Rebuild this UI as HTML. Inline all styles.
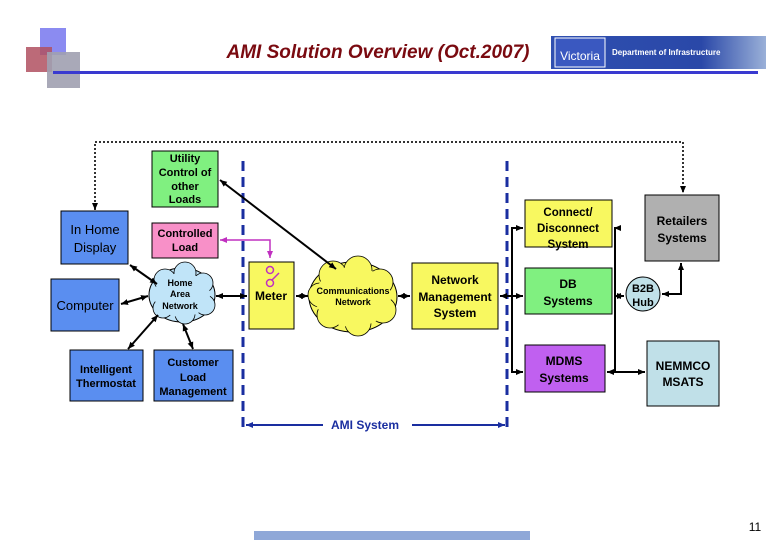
<!DOCTYPE html>
<html><head><style>
body{margin:0;width:780px;height:540px;background:#fff;overflow:hidden;font-family:"Liberation Sans",Arial,sans-serif}
</style></head><body>
<svg width="780" height="540" viewBox="0 0 780 540" xmlns="http://www.w3.org/2000/svg" font-family="Liberation Sans, Arial, sans-serif">
<defs>
<marker id="a" markerWidth="8" markerHeight="8" refX="7" refY="4" orient="auto-start-reverse" markerUnits="userSpaceOnUse"><path d="M0,1 L7,4 L0,7 z" fill="#000"/></marker>
<marker id="p" markerWidth="8" markerHeight="8" refX="7" refY="4" orient="auto-start-reverse" markerUnits="userSpaceOnUse"><path d="M0,1 L7,4 L0,7 z" fill="#c030c0"/></marker>
<marker id="b" markerWidth="8" markerHeight="8" refX="7" refY="4" orient="auto-start-reverse" markerUnits="userSpaceOnUse"><path d="M0,1 L7,4 L0,7 z" fill="#1a2ea0"/></marker>
<linearGradient id="lg" x1="0" x2="1"><stop offset="0" stop-color="#2f4fb0"/><stop offset="0.7" stop-color="#2a48a8"/><stop offset="1" stop-color="#9ab0d8"/></linearGradient>
</defs>
<rect x="40" y="28" width="26" height="27" fill="#7777ee" opacity="0.85"/>
<rect x="26" y="47" width="26" height="25" fill="#b05060" opacity="0.85"/>
<rect x="47" y="52" width="33" height="36" fill="#a0a0b0" opacity="0.9"/>
<rect x="53" y="71" width="705" height="3" fill="#3a3ad0"/>
<text x="378" y="58" text-anchor="middle" font-size="19" font-weight="bold" font-style="italic" fill="#7a0a10">AMI Solution Overview (Oct.2007)</text>
<rect x="551" y="36" width="215" height="33" fill="url(#lg)"/>
<rect x="555" y="38" width="50" height="29" fill="#3a58c0" stroke="#fff" stroke-width="1"/>
<text x="580" y="60" text-anchor="middle" font-size="12" fill="#fff">Victoria</text>
<text x="612" y="55" font-size="8" font-weight="bold" fill="#fff">Department of Infrastructure</text>
<path d="M95,210 L95,142 L683,142 L683,193" fill="none" stroke="#333" stroke-width="2" stroke-dasharray="2,2" marker-end="url(#a)"/>
<path d="M95,200 L95,210" stroke="none" marker-end="url(#a)"/>
<line x1="243" y1="161" x2="243" y2="433" stroke="#1a2ea0" stroke-width="3" stroke-dasharray="10,6"/>
<line x1="507" y1="161" x2="507" y2="433" stroke="#1a2ea0" stroke-width="3" stroke-dasharray="10,6"/>
<line x1="246" y1="425" x2="323" y2="425" stroke="#1a2ea0" stroke-width="2" marker-start="url(#b)"/>
<line x1="412" y1="425" x2="505" y2="425" stroke="#1a2ea0" stroke-width="2" marker-end="url(#b)"/>
<text x="365" y="429" text-anchor="middle" font-size="12" font-weight="bold" fill="#1a2ea0">AMI System</text>
<g stroke="#000" stroke-width="1">
<rect x="152" y="151" width="66" height="56" fill="#80f080"/>
<rect x="152" y="223" width="66" height="35" fill="#f890c8"/>
<rect x="61" y="211" width="67" height="53" fill="#5a8ef0"/>
<rect x="51" y="279" width="68" height="52" fill="#5a8ef0"/>
<rect x="70" y="350" width="73" height="51" fill="#5a8ef0"/>
<rect x="154" y="350" width="79" height="51" fill="#5a8ef0"/>
<rect x="249" y="262" width="45" height="67" fill="#f8f860"/>
<rect x="412" y="263" width="86" height="66" fill="#f8f860"/>
<rect x="525" y="200" width="87" height="47" fill="#f8f860"/>
<rect x="525" y="268" width="87" height="46" fill="#80f080"/>
<rect x="525" y="345" width="80" height="47" fill="#c060f0"/>
<rect x="645" y="195" width="74" height="66" fill="#b0b0b0"/>
<rect x="647" y="341" width="72" height="65" fill="#c0e0e8"/>
<circle cx="643" cy="294" r="17" fill="#c0e0e8"/>
<ellipse cx="182" cy="295" rx="33" ry="27" fill="#c0e4f8"/>
<ellipse cx="353" cy="297" rx="44" ry="35" fill="#f8f860"/>
</g>
<g fill="#c0e4f8" stroke="#000" stroke-width="0.8"><circle cx="165" cy="280" r="11"/><circle cx="185" cy="273" r="11"/><circle cx="203" cy="283" r="10"/><circle cx="205" cy="305" r="10"/><circle cx="185" cy="314" r="10"/><circle cx="163" cy="308" r="10"/></g>
<ellipse cx="182" cy="295" rx="28" ry="22" fill="#c0e4f8"/>
<g fill="#f8f860" stroke="#000" stroke-width="0.8"><circle cx="333" cy="275" r="14"/><circle cx="358" cy="270" r="14"/><circle cx="380" cy="282" r="13"/><circle cx="383" cy="310" r="13"/><circle cx="358" cy="323" r="13"/><circle cx="330" cy="315" r="13"/><circle cx="320" cy="295" r="12"/></g>
<ellipse cx="353" cy="297" rx="38" ry="30" fill="#f8f860"/>
<g text-anchor="middle" fill="#000" font-weight="bold">
<text font-size="11"><tspan x="185" y="162">Utility</tspan><tspan x="185" y="176">Control of</tspan><tspan x="185" y="190">other</tspan><tspan x="185" y="203">Loads</tspan></text>
<text font-size="11"><tspan x="185" y="237">Controlled</tspan><tspan x="185" y="251">Load</tspan></text>
<text font-size="13" font-weight="normal"><tspan x="95" y="234">In Home</tspan><tspan x="95" y="252">Display</tspan></text>
<text x="85" y="310" font-size="13" font-weight="normal">Computer</text>
<text font-size="11"><tspan x="106" y="373">Intelligent</tspan><tspan x="106" y="387">Thermostat</tspan></text>
<text font-size="11"><tspan x="193" y="366">Customer</tspan><tspan x="193" y="381">Load</tspan><tspan x="193" y="395">Management</tspan></text>
<text font-size="9"><tspan x="180" y="286">Home</tspan><tspan x="180" y="297">Area</tspan><tspan x="180" y="309">Network</tspan></text>
<text font-size="9"><tspan x="353" y="294">Communications</tspan><tspan x="353" y="305">Network</tspan></text>
<text x="271" y="300" font-size="12">Meter</text>
<text font-size="12"><tspan x="455" y="284">Network</tspan><tspan x="455" y="301">Management</tspan><tspan x="455" y="317">System</tspan></text>
<text font-size="11.5"><tspan x="568" y="216">Connect/</tspan><tspan x="568" y="232">Disconnect</tspan><tspan x="568" y="248">System</tspan></text>
<text font-size="12"><tspan x="568" y="288">DB</tspan><tspan x="568" y="305">Systems</tspan></text>
<text font-size="12"><tspan x="564" y="365">MDMS</tspan><tspan x="564" y="382">Systems</tspan></text>
<text font-size="12"><tspan x="682" y="225">Retailers</tspan><tspan x="682" y="242">Systems</tspan></text>
<text font-size="11"><tspan x="643" y="292">B2B</tspan><tspan x="643" y="306">Hub</tspan></text>
<text font-size="12"><tspan x="683" y="370">NEMMCO</tspan><tspan x="683" y="386">MSATS</tspan></text>
</g>
<g stroke="#c030c0" stroke-width="1.5" fill="none"><circle cx="270" cy="270" r="3.5"/><circle cx="270" cy="283" r="3.5"/><line x1="272" y1="280" x2="279" y2="273"/></g>
<g stroke="#000" stroke-width="2" fill="none">
<line x1="130" y1="265" x2="157" y2="284" marker-start="url(#a)" marker-end="url(#a)"/>
<line x1="121" y1="304" x2="148" y2="296" marker-start="url(#a)" marker-end="url(#a)"/>
<line x1="128" y1="349" x2="158" y2="315" marker-start="url(#a)" marker-end="url(#a)"/>
<line x1="193" y1="349" x2="183" y2="324" marker-start="url(#a)" marker-end="url(#a)"/>
<line x1="216" y1="296" x2="247" y2="296" marker-start="url(#a)" marker-end="url(#a)"/>
<line x1="220" y1="180" x2="336" y2="269" marker-start="url(#a)" marker-end="url(#a)"/>
<line x1="296" y1="296" x2="308" y2="296" marker-start="url(#a)" marker-end="url(#a)"/>
<line x1="398" y1="296" x2="410" y2="296" marker-start="url(#a)" marker-end="url(#a)"/>
<line x1="500" y1="296" x2="512" y2="296" marker-start="url(#a)"/>
<path d="M523,228 L512,228 L512,372 L523,372" marker-start="url(#a)" marker-end="url(#a)"/>
<line x1="512" y1="296" x2="523" y2="296" marker-end="url(#a)"/>
<path d="M615,228 L615,372 L607,372" marker-end="url(#a)"/>
<line x1="620" y1="228" x2="614" y2="228" marker-end="url(#a)"/>
<line x1="615" y1="296" x2="614" y2="296" marker-end="url(#a)"/>
<line x1="615" y1="296" x2="624" y2="296" marker-end="url(#a)"/>
<line x1="615" y1="372" x2="645" y2="372" marker-end="url(#a)"/>
<path d="M662,294 L681,294 L681,263" marker-start="url(#a)" marker-end="url(#a)"/>
</g>
<path d="M270,258 L270,240 L220,240" fill="none" stroke="#c030c0" stroke-width="1.5" marker-start="url(#p)" marker-end="url(#p)"/>
<rect x="254" y="531" width="276" height="9" fill="#8fa8d8"/>
<text x="755" y="531" font-size="12" text-anchor="middle">11</text>
</svg>
</body></html>
